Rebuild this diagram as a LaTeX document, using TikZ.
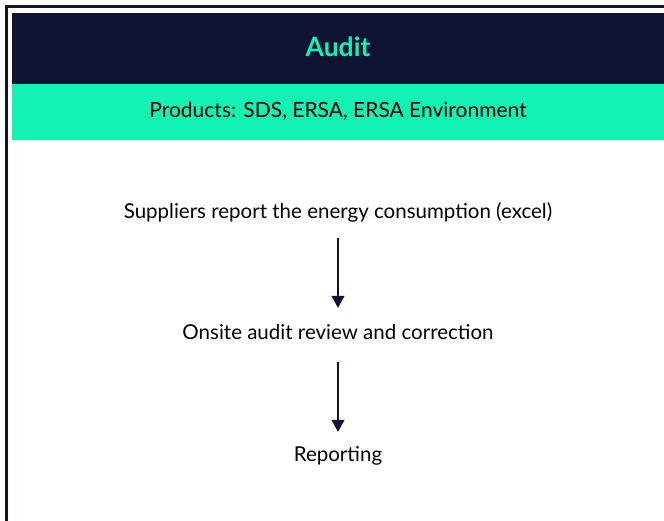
\documentclass[tikz,border=0pt]{standalone}
\usepackage{fontspec}
\setmainfont{Lato}
\usetikzlibrary{arrows.meta}
\definecolor{navy}{HTML}{101433}
\definecolor{mint}{HTML}{14F1B5}
\tikzset{
  frame/.style={draw=navy, line width=2.8pt},
  title/.style={text=mint, font=\fontsize{26.5}{30}\selectfont\bfseries, inner sep=0pt},
  subtitle/.style={text=black, font=\fontsize{21}{24}\selectfont, inner sep=0pt},
  stepbox/.style={text=black, font=\fontsize{20.5}{24}\selectfont, inner sep=0pt,
    text height=14pt, text depth=4pt},
  flow/.style={draw=navy, line width=1.2pt, -{Triangle[width=13pt,length=12pt]}}
}
\begin{document}
\begin{tikzpicture}[x=1pt, y=-1pt]
  \useasboundingbox (0,0) rectangle (664,521);
  \fill[white] (0,0) rectangle (664,521);
  % outer frame (left and top edges of the card)
  \draw[frame] (6.8,521) -- (6.8,6.8) -- (664,6.8);
  % header bands
  \fill[navy] (12,13) rectangle (664,84);
  \fill[mint] (12,84) rectangle (664,140);
  \node[title] (head) at (338,47) {Audit};
  \node[subtitle] (prod) at (338,111) {Products: SDS, ERSA, ERSA Environment};
  % process steps
  \node[stepbox] (s1) at (338,214) {Suppliers report the energy consumption (excel)};
  \node[stepbox] (s2) at (338,334) {Onsite audit review and correction};
  \node[stepbox] (s3) at (338,456) {Reporting};
  \draw[flow, shorten <=15pt, shorten >=17pt] (s1.south) -- (s2.north);
  \draw[flow, shorten <=19pt, shorten >=15pt] (s2.south) -- (s3.north);
\end{tikzpicture}
\end{document}
